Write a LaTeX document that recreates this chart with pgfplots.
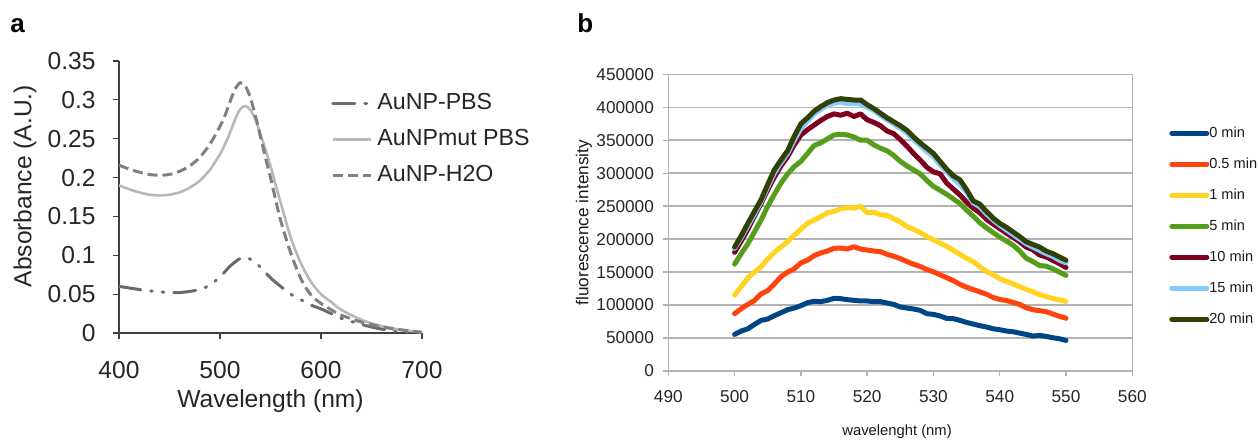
\documentclass[border=0pt]{standalone}
\usepackage{fontspec}
\setmainfont{Liberation Sans}
\usepackage{pgfplots}
\usepackage{pgfplotstable}
\pgfplotsset{compat=1.18}

\definecolor{c0}{HTML}{004586}
\definecolor{c05}{HTML}{FF420E}
\definecolor{c1}{HTML}{FFD320}
\definecolor{c5}{HTML}{579D1C}
\definecolor{c10}{HTML}{7E0021}
\definecolor{c15}{HTML}{83CAFF}
\definecolor{c20}{HTML}{314004}
\definecolor{gridgray}{HTML}{B3B3B3}

% fluorescence vs wavelength, one column per time point
\pgfplotstableread{
wl  t0     t05    t1     t5     t10    t15    t20
500 55500  87000  115000 162000 180000 186000 188000
501 60600  94500  128000 178000 197000 202000 205000
502 64000  101000 141000 193000 215000 220000 224000
503 70700  107000 150000 211000 235000 238000 242000
504 76800  117000 158000 229000 254000 257000 260000
505 78800  122000 170000 250000 275000 279000 283000
506 83900  132000 180000 268000 294000 300000 305000
507 88400  143000 188000 285000 311000 316000 320000
508 93000  150000 196000 299000 325000 330000 334000
509 95500  155000 206000 310000 343000 350000 356000
510 99100  164000 215000 318000 358000 368000 375000
511 103600 168000 224000 330000 366000 379000 384000
512 105700 175000 229000 342000 373000 390000 394000
513 105200 179000 234000 346000 380000 397000 401000
514 107200 182000 240000 352000 386000 403000 407000
515 110200 186000 242000 358000 390000 406000 411000
516 109700 186500 246000 359000 388000 408000 413000
517 108200 185000 248000 358000 391000 406000 412000
518 107200 188500 247000 355000 386000 406000 411000
519 106200 185000 250000 350000 390000 405000 411000
520 106200 183500 240000 350000 381000 400000 404000
521 105200 182000 241000 343000 377000 395000 398000
522 105200 181000 237000 338000 372000 388000 391000
523 103100 177000 236000 334000 364000 381000 384000
524 101100 174000 231000 327000 360000 375000 378000
525 97100  170500 226000 318000 351000 368000 372000
526 95500  166000 219000 311000 341000 361000 365000
527 94000  162000 215000 305000 330000 351000 355000
528 92000  158500 210000 299000 320000 342000 346000
529 86900  154000 204000 289000 309000 333000 338000
530 85900  150500 199000 280000 302000 325000 330000
531 83400  146000 194000 274000 299000 313000 318000
532 79800  141500 189000 268000 285000 302000 306000
533 79300  137000 183000 261000 276000 292000 296000
534 76800  131500 177000 254000 267000 283000 290000
535 73700  127000 171000 244000 256000 271000 275000
536 71200  123500 166000 235000 247000 255000 258000
537 68700  120000 158000 225000 240000 249000 253000
538 66700  116500 151000 217000 230000 238000 242000
539 64100  111500 146000 210000 223000 229000 232000
540 62600  108500 140000 203000 216000 221000 224000
541 60600  107000 136000 197000 209000 214000 218000
542 59600  104000 132000 191000 203000 207000 211000
543 57500  101000 128000 182000 196000 200000 204000
544 55500  96000  124000 171000 188000 193000 196000
545 53000  93000  120000 166000 184000 188000 192000
546 54000  91500  116000 160000 176000 183000 188000
547 52500  90000  113000 159000 173000 178000 182000
548 50500  86500  110000 155000 168000 174000 178000
549 48900  83000  108000 150000 163000 168000 173000
550 46400  80000  105500 145000 157000 164000 168000
}\fluor

\begin{document}
\begin{tikzpicture}
\useasboundingbox (0pt,0pt) rectangle (629.5pt,220.5pt);
\node[anchor=base west,inner sep=0,font=\fontsize{13}{13}\selectfont\bfseries] at (5pt,204.5pt) {a};
\node[anchor=base west,inner sep=0,font=\fontsize{13}{13}\selectfont\bfseries] at (288.5pt,204.5pt) {b};

% ---- panel a: absorbance
\begin{axis}[
  at={(59.5pt,54pt)}, anchor=south west, scale only axis,
  width=151.5pt, height=136pt,
  xmin=400, xmax=700, ymin=0, ymax=0.35,
  axis lines=left, axis line style={-, black!75, line width=0.6pt},
  xtick={400,500,600,700},
  ytick={0,0.05,0.1,0.15,0.2,0.25,0.3,0.35},
  tick align=outside, major tick length=3pt,
  tick style={black!75, line width=0.6pt},
  /pgf/number format/assume math mode=true,
  yticklabel style={/pgf/number format/fixed, /pgf/number format/precision=2, xshift=-5.2pt},
  xticklabel style={yshift=-7.5pt},
  ticklabel style={font=\fontsize{12.3}{14}\selectfont, text=black!85},
  xlabel={Wavelength (nm)}, ylabel={Absorbance (A.U.)},
  label style={font=\fontsize{12.3}{14}\selectfont, text=black!85},
  xlabel style={at={(axis description cs:0.5,-0.25)}, anchor=center},
  ylabel style={at={(axis description cs:-0.31,0.54)}, anchor=center},
  legend style={at={(axis description cs:0.68,0.90)}, anchor=north west,
    draw=none, fill=none, font=\fontsize{11.6}{13}\selectfont, text=black!85,
    nodes={inner sep=0pt, text height=8.5pt, text depth=2.5pt},
    row sep=7pt, column sep=2.5pt},
  legend cell align=left,
  legend image code/.code={\draw[#1] (0pt,0pt) -- (19pt,0pt);},
]
\addplot[color=black!58, line width=1.5pt, smooth,
  dash pattern=on 11pt off 5pt on 0.8pt off 5pt on 0.8pt off 5pt, line cap=round]
coordinates {(400,0.060) (420,0.056) (440,0.053) (460,0.052) (480,0.056) (490,0.062)
 (500,0.072) (510,0.086) (520,0.096) (525,0.097) (530,0.095) (540,0.085) (550,0.071)
 (560,0.060) (570,0.050) (580,0.043) (590,0.036) (600,0.031) (610,0.025) (620,0.019)
 (640,0.011) (660,0.005) (680,0.002) (700,0.000)};
\addplot[color=black!28, line width=1.3pt, smooth]
coordinates {(400,0.190) (410,0.185) (420,0.181) (430,0.178) (440,0.177) (450,0.178)
 (460,0.181) (470,0.187) (480,0.196) (490,0.210) (500,0.230) (505,0.243) (510,0.258)
 (515,0.275) (520,0.288) (525,0.292) (530,0.287) (535,0.275) (540,0.256) (545,0.236)
 (550,0.215) (555,0.191) (560,0.168) (570,0.123) (580,0.090) (590,0.066) (600,0.050)
 (610,0.040) (620,0.030) (640,0.017) (660,0.009) (680,0.004) (700,0.001)};
\addplot[color=black!50, line width=1.5pt, smooth, dash pattern=on 5pt off 2.5pt]
coordinates {(400,0.216) (410,0.211) (420,0.207) (430,0.204) (440,0.203) (450,0.204)
 (460,0.208) (470,0.215) (480,0.226) (490,0.243) (500,0.266) (505,0.280) (510,0.298)
 (515,0.314) (520,0.322) (525,0.318) (530,0.303) (535,0.280) (540,0.253) (545,0.226)
 (550,0.200) (555,0.172) (560,0.145) (570,0.103) (580,0.070) (590,0.049) (600,0.038)
 (610,0.030) (620,0.023) (640,0.014) (660,0.008) (680,0.004) (700,0.001)};
\legend{AuNP-PBS, AuNPmut PBS, AuNP-H2O}
\end{axis}

% ---- panel b: fluorescence
\begin{axis}[
  at={(334.15pt,35pt)}, anchor=south west, scale only axis,
  width=232pt, height=148.35pt,
  xmin=490, xmax=560, ymin=0, ymax=450000,
  xtick={490,500,510,520,530,540,550,560},
  ytick={0,50000,100000,150000,200000,250000,300000,350000,400000,450000},
  scaled y ticks=false,
  axis line style={gridgray, line width=0.7pt},
  ymajorgrids, grid style={gridgray, line width=0.75pt},
  tick pos=left, tick align=outside, major tick length=2.5pt,
  tick style={gridgray, line width=0.7pt},
  /pgf/number format/assume math mode=true,
  yticklabel style={/pgf/number format/fixed, /pgf/number format/1000 sep={}, xshift=-1.2pt},
  xticklabel style={yshift=-3.5pt},
  ticklabel style={font=\fontsize{8.6}{10}\selectfont, text=black!85},
  xlabel={wavelenght (nm)}, ylabel={fluorescence intensity},
  label style={font=\fontsize{7.4}{9}\selectfont, text=black!90},
  ylabel style={font=\fontsize{8.6}{10}\selectfont, at={(axis description cs:-0.182,0.5)}, anchor=center},
  xlabel style={at={(axis description cs:0.493,-0.205)}, anchor=center},
  every axis plot/.append style={line width=2.5pt, line cap=round, line join=round},
  legend style={at={(axis description cs:1.066,0.84)}, anchor=north west,
    draw=none, fill=none, font=\fontsize{7.3}{9}\selectfont, text=black!90,
    nodes={inner sep=0pt, text height=5.5pt, text depth=1.5pt},
    row sep=8.5pt, column sep=0pt},
  legend cell align=left,
  legend image code/.code={\draw[#1] (0pt,0pt) -- (17.5pt,0pt);},
]
\addplot[c0]  table[x=wl,y=t0]  {\fluor};
\addplot[c05] table[x=wl,y=t05] {\fluor};
\addplot[c1]  table[x=wl,y=t1]  {\fluor};
\addplot[c5]  table[x=wl,y=t5]  {\fluor};
\addplot[c10] table[x=wl,y=t10] {\fluor};
\addplot[c15] table[x=wl,y=t15] {\fluor};
\addplot[c20] table[x=wl,y=t20] {\fluor};
\legend{0 min, 0.5 min, 1 min, 5 min, 10 min, 15 min, 20 min}
\end{axis}
\end{tikzpicture}
\end{document}
